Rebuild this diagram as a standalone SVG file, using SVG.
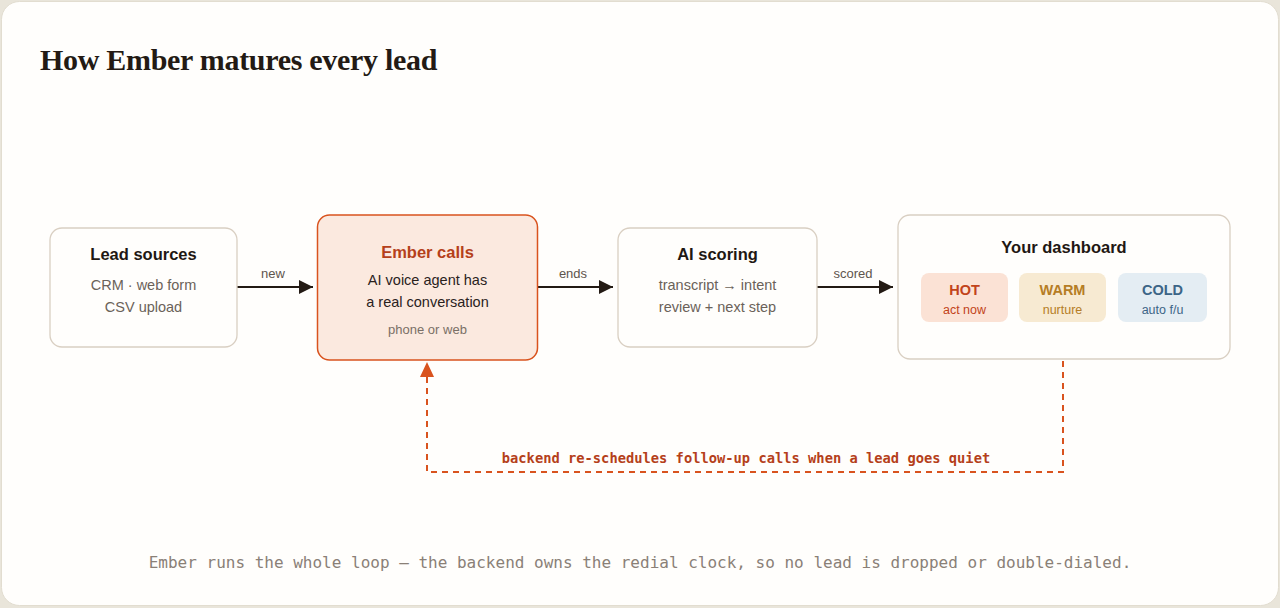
<svg xmlns="http://www.w3.org/2000/svg" width="1280" height="608" viewBox="0 0 1280 608">
<style>
.card{fill:#fffefc;stroke:#d9cfc2;stroke-width:1.3}
.t{font-family:"Liberation Sans",Arial,sans-serif;font-weight:bold;font-size:16.5px;fill:#1f1813;text-anchor:middle}
.s{font-family:"Liberation Sans",Arial,sans-serif;font-size:14.5px;fill:#6b6259;text-anchor:middle}
.lbl{font-family:"Liberation Sans",Arial,sans-serif;font-size:13px;fill:#5e554d;text-anchor:middle}
.edge{stroke:#231a14;stroke-width:2;fill:none}
.chipT{font-family:"Liberation Sans",Arial,sans-serif;font-weight:bold;font-size:14.5px;text-anchor:middle}
.chipS{font-family:"Liberation Sans",Arial,sans-serif;font-size:12.5px;text-anchor:middle}
</style>
<defs>
<marker id="ah" markerWidth="14" markerHeight="14" refX="14" refY="7" orient="auto" markerUnits="userSpaceOnUse" viewBox="0 0 14 14">
<path d="M0,0 L14,7 L0,14 z" fill="#231a14"/>
</marker>
</defs>
<rect x="0" y="0" width="1280" height="608" fill="#e9e5da"/>
<rect x="1.5" y="1.5" width="1277" height="604" rx="18" fill="#fffefc" stroke="#e2ddd0" stroke-width="1"/>
<text x="40" y="70" font-family="'Liberation Serif','Times New Roman',serif" font-weight="bold" font-size="30" fill="#231a14" letter-spacing="-0.3">How Ember matures every lead</text>

<g id="connectors">
<line class="edge" x1="237" y1="287" x2="313" y2="287" marker-end="url(#ah)"/>
<text class="lbl" x="273" y="278">new</text>
<line class="edge" x1="537" y1="287" x2="613" y2="287" marker-end="url(#ah)"/>
<text class="lbl" x="573" y="278">ends</text>
<line class="edge" x1="817" y1="287" x2="893" y2="287" marker-end="url(#ah)"/>
<text class="lbl" x="853" y="278">scored</text>
<path d="M1063,361 V472 H427 V376" fill="none" stroke="#d9531e" stroke-width="2" stroke-dasharray="6,5"/>
<path d="M420,377 L427,362 L434,377 z" fill="#d9531e"/>
<text x="746" y="463" font-family="'DejaVu Sans Mono','Liberation Mono',monospace" font-weight="bold" font-size="13.75" fill="#b5401a" text-anchor="middle">backend re-schedules follow-up calls when a lead goes quiet</text>
</g>

<g id="lead-sources">
<rect class="card" x="50" y="228" width="187" height="119" rx="12"/>
<text class="t" x="143.5" y="260">Lead sources</text>
<text class="s" x="143.5" y="290">CRM · web form</text>
<text class="s" x="143.5" y="312">CSV upload</text>
</g>

<g id="ember-calls">
<rect x="317.5" y="215" width="220" height="145" rx="12" fill="#fbe9df" stroke="#d9531e" stroke-width="1.5"/>
<text class="t" x="427.5" y="258" style="fill:#b5401a">Ember calls</text>
<text class="s" x="427.5" y="285" style="fill:#2a221d">AI voice agent has</text>
<text class="s" x="427.5" y="307" style="fill:#2a221d">a real conversation</text>
<text class="s" x="427.5" y="334" style="font-size:13px;fill:#7a6f66">phone or web</text>
</g>

<g id="ai-scoring">
<rect class="card" x="618" y="228" width="199" height="119" rx="12"/>
<text class="t" x="717.5" y="260">AI scoring</text>
<text class="s" x="717.5" y="290">transcript → intent</text>
<text class="s" x="717.5" y="312">review + next step</text>
</g>

<g id="dashboard">
<rect class="card" x="898" y="215" width="332" height="144" rx="12"/>
<text class="t" x="1064" y="253">Your dashboard</text>
<rect x="921" y="273" width="87" height="49" rx="8" fill="#fbe2d5"/>
<text class="chipT" x="964.5" y="295" fill="#c2431a">HOT</text>
<text class="chipS" x="964.5" y="314" fill="#c2431a">act now</text>
<rect x="1019" y="273" width="87" height="49" rx="8" fill="#f7ead2"/>
<text class="chipT" x="1062.5" y="295" fill="#b57d25">WARM</text>
<text class="chipS" x="1062.5" y="314" fill="#b57d25">nurture</text>
<rect x="1118" y="273" width="89" height="49" rx="8" fill="#e4edf3"/>
<text class="chipT" x="1162.5" y="295" fill="#3c6587">COLD</text>
<text class="chipS" x="1162.5" y="314" fill="#3c6587">auto f/u</text>
</g>

<text x="640" y="568" font-family="'DejaVu Sans Mono','Liberation Mono',monospace" font-size="16" fill="#8a8077" text-anchor="middle">Ember runs the whole loop — the backend owns the redial clock, so no lead is dropped or double-dialed.</text>
</svg>
